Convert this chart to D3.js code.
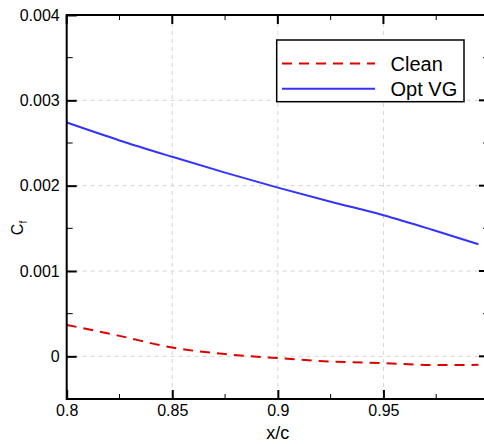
<!DOCTYPE html>
<html>
<head>
<meta charset="utf-8">
<script src="https://d3js.org/d3.v7.min.js"></script>
<style>
  body { margin: 0; background: #fff; }
  svg { display: block; overflow: hidden; }
  text { font-family: "Liberation Sans", Arial, sans-serif; fill: #000; }
</style>
</head>
<body>
<script>
// data
const xs = [0.8, 0.825, 0.85, 0.875, 0.9, 0.925, 0.95, 0.975, 0.995];
const clean = [0.000369, 0.00024, 0.000103, 0.000026, -0.000021, -0.000061, -0.00008, -0.000103, -0.0001];
const optVG = [0.00274, 0.00253, 0.002338, 0.002153, 0.001977, 0.001812, 0.001654, 0.001469, 0.001314];
const xTicks = [0.8, 0.85, 0.9, 0.95];
const yTicks = [0, 0.001, 0.002, 0.003, 0.004];
const xMinorTicks = [0.825, 0.875, 0.925, 0.975];
const yMinorTicks = [0.0005, 0.0015, 0.0025, 0.0035];
const seriesNames = ['Clean', 'Opt VG'];

const width = 484, height = 444;
const margin = { left: 66.7, top: 15, right: 489, bottom: 399 };

const x = d3.scaleLinear().domain([0.8, 1.0]).range([margin.left, margin.right]);
const y = d3.scaleLinear().domain([-0.0005, 0.004]).range([margin.bottom, margin.top]);

const svg = d3.select('body').append('svg')
    .attr('width', width)
    .attr('height', height);

// grid
const grid = svg.append('g')
    .attr('stroke', '#d4d4d4')
    .attr('stroke-width', 1)
    .attr('stroke-dasharray', '4,4');
grid.selectAll('line.gx').data(xTicks.slice(1)).join('line')
    .attr('x1', d => x(d)).attr('x2', d => x(d))
    .attr('y1', margin.top).attr('y2', margin.bottom);
grid.selectAll('line.gy').data(yTicks.slice(0, -1)).join('line')
    .attr('x1', margin.left).attr('x2', margin.right)
    .attr('y1', d => y(d)).attr('y2', d => y(d));

// curves
const line = d3.line().x((d, i) => x(xs[i])).y(d => y(d)).curve(d3.curveMonotoneX);

svg.append('path')
    .attr('d', line(clean))
    .attr('fill', 'none')
    .attr('stroke', '#dd0000')
    .attr('stroke-width', 2)
    .attr('stroke-dasharray', '10,7');

svg.append('path')
    .attr('d', line(optVG))
    .attr('fill', 'none')
    .attr('stroke', '#3333ff')
    .attr('stroke-width', 2);

// axes with inward ticks
const axB = d3.axisBottom(x).tickValues(xTicks).tickSize(-9).tickFormat(d3.format('~g'));
const axL = d3.axisLeft(y).tickValues(yTicks).tickSize(-10).tickPadding(7)
    .tickFormat(d => d === 0 ? '0' : d3.format('.3f')(d));

const gB = svg.append('g').attr('transform', `translate(0,${margin.bottom})`).call(axB);
const gL = svg.append('g').attr('transform', `translate(${margin.left},0)`).call(axL);

[gB, gL].forEach(g => {
  g.select('.domain').remove();
  g.selectAll('.tick line').attr('stroke', '#000').attr('stroke-width', 2);
  g.selectAll('.tick text').attr('font-size', 16).attr('font-family', '"Liberation Sans", Arial, sans-serif');
});
gB.selectAll('.tick text').attr('y', 11).attr('dy', '0.35em');

// top and right major ticks
svg.append('g').selectAll('line').data(xTicks).join('line')
    .attr('x1', d => x(d)).attr('x2', d => x(d))
    .attr('y1', margin.top).attr('y2', margin.top + 9)
    .attr('stroke', '#000').attr('stroke-width', 2);
svg.append('g').selectAll('line').data(yTicks).join('line')
    .attr('x1', margin.right - 10).attr('x2', margin.right)
    .attr('y1', d => y(d)).attr('y2', d => y(d))
    .attr('stroke', '#000').attr('stroke-width', 2);

// minor ticks
const minor = svg.append('g').attr('stroke', '#000').attr('stroke-width', 1);
xMinorTicks.forEach(v => {
  minor.append('line').attr('x1', x(v)).attr('x2', x(v)).attr('y1', margin.bottom).attr('y2', margin.bottom - 5);
  minor.append('line').attr('x1', x(v)).attr('x2', x(v)).attr('y1', margin.top).attr('y2', margin.top + 5);
});
yMinorTicks.forEach(v => {
  minor.append('line').attr('x1', margin.left).attr('x2', margin.left + 6).attr('y1', y(v)).attr('y2', y(v));
  minor.append('line').attr('x1', margin.right).attr('x2', margin.right - 6).attr('y1', y(v)).attr('y2', y(v));
});

// frame
svg.append('rect')
    .attr('x', margin.left).attr('y', margin.top)
    .attr('width', margin.right - margin.left).attr('height', margin.bottom - margin.top)
    .attr('fill', 'none').attr('stroke', '#000').attr('stroke-width', 2);

// axis titles
svg.append('text')
    .attr('x', x(0.9)).attr('y', 439)
    .attr('text-anchor', 'middle')
    .attr('font-size', 18)
    .text('x/c');

const yt = svg.append('text')
    .attr('transform', 'translate(23,228) rotate(-90)')
    .attr('text-anchor', 'middle')
    .attr('font-size', 16);
yt.append('tspan').text('C');
yt.append('tspan').attr('font-size', 10).attr('dy', 4).text('f');

// legend
const lg = svg.append('g');
lg.append('rect')
    .attr('x', 276.7).attr('y', 40)
    .attr('width', 187.3).attr('height', 61.7)
    .attr('fill', '#fff').attr('stroke', '#000').attr('stroke-width', 1.5);
const legendRows = [
  { name: seriesNames[0], color: '#dd0000', dash: '10,7', yy: 63.5 },
  { name: seriesNames[1], color: '#3333ff', dash: null, yy: 88.7 }
];
legendRows.forEach(r => {
  lg.append('line')
      .attr('x1', 282).attr('x2', 375)
      .attr('y1', r.yy).attr('y2', r.yy)
      .attr('stroke', r.color).attr('stroke-width', 2)
      .attr('stroke-dasharray', r.dash);
  lg.append('text')
      .attr('x', 390.5).attr('y', r.yy + 7)
      .attr('font-size', 20)
      .text(r.name);
});
</script>
</body>
</html>
